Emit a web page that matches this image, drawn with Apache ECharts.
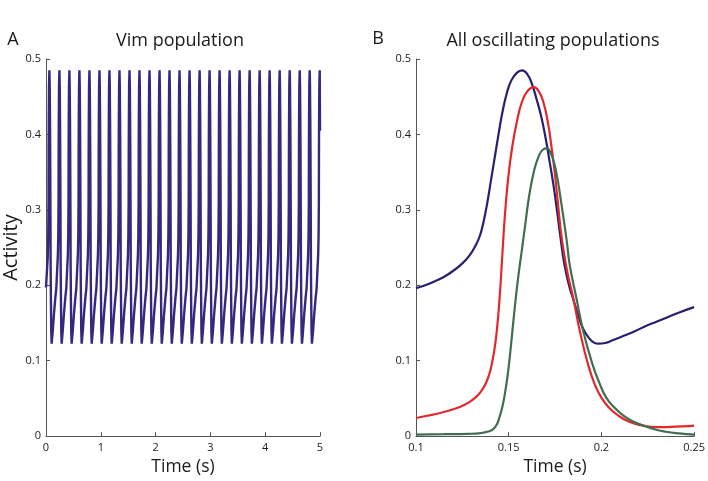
<!DOCTYPE html>
<html>
<head>
<meta charset="utf-8">
<script src="https://cdn.jsdelivr.net/npm/echarts@6/dist/echarts.min.js"></script>
<style>html,body{margin:0;padding:0;background:#fff;}#c{width:708px;height:481px;}</style>
</head>
<body>
<div id="c"></div>
<script>
// ---- Panel A: Vim population (times of the 28 peaks) ----
var vimPeakTimes = [0.062, 0.245, 0.427, 0.610, 0.793, 0.976, 1.158, 1.341, 1.524, 1.706,
  1.889, 2.072, 2.254, 2.437, 2.620, 2.803, 2.985, 3.168, 3.351, 3.533,
  3.716, 3.899, 4.081, 4.264, 4.447, 4.630, 4.812, 4.995];
// One cycle of the Vim waveform around its peak (offset from peak in s, activity)
var vimCycleOffsets = [-0.122, -0.0997, -0.0727, -0.057, -0.0284, -0.0209, -0.0158, -0.0141, -0.0115, -0.0072, 0, 0.0055, 0.0108, 0.0143, 0.0196, 0.0223, 0.0276, 0.0338, 0.041];
var vimCycleValues  = [0.139, 0.162, 0.185, 0.196, 0.240, 0.265, 0.310, 0.376, 0.420, 0.464, 0.485, 0.464, 0.420, 0.376, 0.288, 0.227, 0.183, 0.139, 0.1225];
var vimStart = [0, 0.197];
var vimEnd = [5, 0.405];

// ---- Panel B: all oscillating populations ----
var blueT = [0.100, 0.105, 0.110, 0.115, 0.120, 0.125, 0.129, 0.132, 0.1345, 0.1365, 0.1385, 0.1405, 0.1425, 0.1445, 0.1465, 0.1490, 0.1515, 0.1545, 0.1572, 0.1600, 0.1625, 0.1650, 0.1675, 0.1700, 0.1720, 0.1740, 0.1760, 0.1780, 0.1800, 0.1825, 0.1850, 0.1875, 0.1900, 0.1930, 0.1960, 0.1985, 0.2020, 0.2060, 0.2120, 0.2180, 0.2240, 0.2300, 0.2360, 0.2420, 0.2500];
var blueV = [0.196, 0.200, 0.205, 0.211, 0.219, 0.229, 0.240, 0.252, 0.266, 0.285, 0.310, 0.340, 0.370, 0.400, 0.428, 0.455, 0.472, 0.482, 0.485, 0.480, 0.467, 0.447, 0.424, 0.394, 0.365, 0.335, 0.300, 0.262, 0.228, 0.200, 0.180, 0.160, 0.143, 0.131, 0.124, 0.1225, 0.1235, 0.127, 0.133, 0.139, 0.146, 0.152, 0.158, 0.164, 0.171];
var redT = [0.100, 0.106, 0.112, 0.118, 0.124, 0.128, 0.132, 0.135, 0.1375, 0.1395, 0.141, 0.1425, 0.1438, 0.1450, 0.1462, 0.1473, 0.1485, 0.1500, 0.1520, 0.1545, 0.1570, 0.1600, 0.1635, 0.1665, 0.1690, 0.1712, 0.1730, 0.1748, 0.1765, 0.1782, 0.1800, 0.1820, 0.1848, 0.1884, 0.1928, 0.1965, 0.2000, 0.2040, 0.2088, 0.2150, 0.2213, 0.2260, 0.2301, 0.2370, 0.2440, 0.2500];
var redV = [0.024, 0.027, 0.030, 0.034, 0.039, 0.044, 0.051, 0.059, 0.069, 0.082, 0.097, 0.118, 0.145, 0.180, 0.225, 0.270, 0.310, 0.348, 0.385, 0.418, 0.442, 0.457, 0.4626, 0.456, 0.440, 0.415, 0.385, 0.350, 0.310, 0.270, 0.240, 0.213, 0.183, 0.139, 0.095, 0.068, 0.051, 0.038, 0.0277, 0.019, 0.0145, 0.0125, 0.0118, 0.0122, 0.013, 0.014];
var greenT = [0.100, 0.115, 0.128, 0.135, 0.139, 0.1415, 0.1435, 0.1450, 0.1465, 0.1480, 0.1495, 0.1510, 0.1525, 0.1540, 0.1555, 0.1570, 0.1590, 0.1610, 0.1635, 0.1660, 0.1685, 0.1706, 0.1725, 0.1745, 0.1762, 0.1778, 0.1798, 0.1815, 0.1829, 0.1865, 0.1902, 0.1952, 0.1990, 0.2026, 0.2070, 0.2114, 0.2165, 0.2221, 0.2280, 0.2347, 0.2420, 0.2500];
var greenV = [0.002, 0.0025, 0.003, 0.004, 0.006, 0.009, 0.015, 0.025, 0.038, 0.057, 0.082, 0.115, 0.152, 0.187, 0.218, 0.245, 0.282, 0.318, 0.350, 0.370, 0.380, 0.3815, 0.376, 0.362, 0.343, 0.318, 0.285, 0.255, 0.227, 0.183, 0.139, 0.095, 0.070, 0.051, 0.038, 0.028, 0.020, 0.0145, 0.0095, 0.0058, 0.0035, 0.002];

// axis ticks
var xTicksA = {min: 0, max: 5, interval: 1};
var xTicksB = {min: 0.1, max: 0.25, interval: 0.05};
var yTicks = {min: 0, max: 0.5, interval: 0.1};

function zip(a, b) { return a.map(function (v, i) { return [v, b[i]]; }); }

// Assemble the Vim trace from its read peak times and read cycle shape
var vimData = [vimStart];
vimPeakTimes.forEach(function (p) {
  vimCycleOffsets.forEach(function (o, i) {
    var t = p + o;
    if (t > vimData[vimData.length - 1][0] && t < vimEnd[0]) vimData.push([t, vimCycleValues[i]]);
  });
});
vimData.push(vimEnd);

var FONT = "'Open Sans', 'DejaVu Sans', sans-serif";
var axisCol = '#555';
var txtCol = '#1a1a1a';

function xAxisCfg(grid, ticks) {
  return {
    type: 'value', gridIndex: grid, min: ticks.min, max: ticks.max, interval: ticks.interval,
    axisLine: {show: true, lineStyle: {color: axisCol, width: 1}},
    axisTick: {show: true, inside: true, length: 4, lineStyle: {color: axisCol}},
    splitLine: {show: false},
    axisLabel: {color: txtCol, fontSize: 11, fontFamily: FONT, margin: 6},
    name: 'Time (s)', nameLocation: 'middle', nameGap: 20,
    nameTextStyle: {color: txtCol, fontSize: 17.5, fontFamily: FONT}
  };
}
function yAxisCfg(grid, withName) {
  var c = {
    type: 'value', gridIndex: grid, min: yTicks.min, max: yTicks.max, interval: yTicks.interval,
    axisLine: {show: true, lineStyle: {color: axisCol, width: 1}},
    axisTick: {show: true, inside: true, length: 4, lineStyle: {color: axisCol}},
    splitLine: {show: false},
    axisLabel: {color: txtCol, fontSize: 11, fontFamily: FONT, margin: 5}
  };
  if (withName) {
    c.name = 'Activity'; c.nameLocation = 'middle'; c.nameGap = 25;
    c.nameTextStyle = {color: txtCol, fontSize: 20, fontFamily: FONT};
  }
  return c;
}

var chart = echarts.init(document.getElementById('c'), null, {renderer: 'canvas'});
chart.setOption({
  animation: false,
  backgroundColor: '#fff',
  grid: [
    {left: 44, top: 59, width: 276, height: 380, containLabel: false},
    {left: 416, top: 59, width: 281, height: 380, containLabel: false}
  ],
  xAxis: [xAxisCfg(0, xTicksA), xAxisCfg(1, xTicksB)],
  yAxis: [yAxisCfg(0, true), yAxisCfg(1, false)],
  graphic: [
    {type: 'text', x: 13, y: 40, style: {text: 'A', font: '18px ' + FONT, fill: txtCol, textAlign: 'center', textVerticalAlign: 'middle'}},
    {type: 'text', x: 180, y: 41, style: {text: 'Vim population', font: '18px ' + FONT, fill: txtCol, textAlign: 'center', textVerticalAlign: 'middle'}},
    {type: 'text', x: 378, y: 39, style: {text: 'B', font: '18px ' + FONT, fill: txtCol, textAlign: 'center', textVerticalAlign: 'middle'}},
    {type: 'text', x: 553, y: 41, style: {text: 'All oscillating populations', font: '18px ' + FONT, fill: txtCol, textAlign: 'center', textVerticalAlign: 'middle'}}
  ],
  series: [
    {type: 'line', xAxisIndex: 0, yAxisIndex: 0, data: vimData, showSymbol: false,
     lineStyle: {color: '#34287f', width: 2.4}, clip: false},
    {type: 'line', xAxisIndex: 1, yAxisIndex: 1, data: zip(blueT, blueV), showSymbol: false, smooth: 0.5,
     lineStyle: {color: '#27206f', width: 2.2}},
    {type: 'line', xAxisIndex: 1, yAxisIndex: 1, data: zip(redT, redV), showSymbol: false, smooth: 0.5,
     lineStyle: {color: '#e3282c', width: 2.2}},
    {type: 'line', xAxisIndex: 1, yAxisIndex: 1, data: zip(greenT, greenV), showSymbol: false, smooth: 0.5,
     lineStyle: {color: '#3f6e50', width: 2.2}}
  ]
});
</script>
</body>
</html>
